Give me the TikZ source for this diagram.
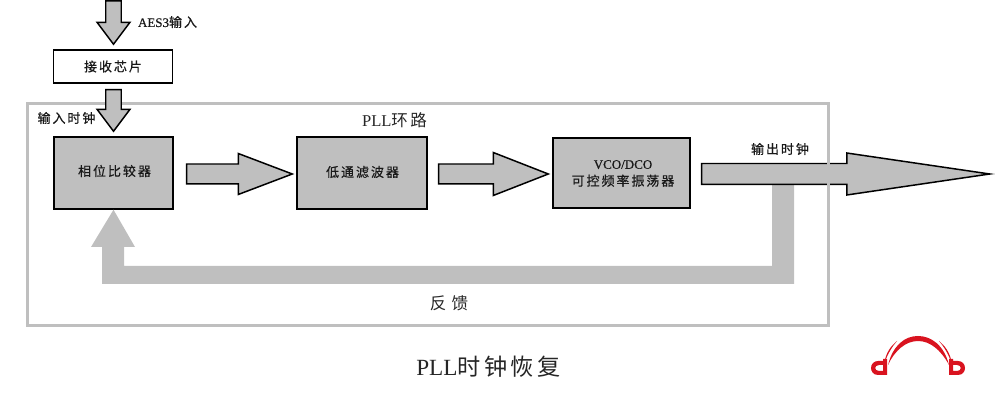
\documentclass[tikz,border=0pt]{standalone}
\usepackage{fontspec}
\setmainfont[LetterSpace=15]{Noto Sans CJK SC}
\newfontfamily\smallfont[LetterSpace=15,FakeBold=.5]{Noto Sans CJK SC}
\newfontfamily\latinfont{Liberation Serif}
\newfontfamily\smalllatin[FakeBold=.6]{Liberation Serif}
\usetikzlibrary{calc}

\definecolor{boxgray}{HTML}{BFBFBF}
\definecolor{logored}{HTML}{D9131F}

\tikzset{
  small label/.style = {inner sep=0pt, text=black!90, font=\smallfont\fontsize{7.4}{9.6}\selectfont, align=center},
  mid label/.style = {inner sep=0pt, text=black!85, font=\fontsize{9.4}{11}\selectfont},
  big label/.style = {inner sep=0pt, text=black!85, font=\fontsize{13.2}{15}\selectfont},
  block/.style = {draw=black, line width=.85pt, fill=boxgray, inner sep=0pt, minimum width=#1},
  flow/.style = {draw=black, line width=.85pt, fill=boxgray, line join=miter},
}

% start, tip, half shaft, half head, head length
\newcommand{\flowarrow}[5]{
  \coordinate (fs) at (#1);
  \coordinate (ft) at (#2);
  \coordinate (fb) at ($(ft)!#5!(fs)$);
  \draw [flow] ($(fs)!#3!90:(ft)$) -- ($(fb)!#3!-90:(fs)$) -- ($(fb)!#4!-90:(fs)$) -- (ft)
    -- ($(fb)!#4!90:(fs)$) -- ($(fb)!#3!90:(fs)$) -- ($(fs)!#3!-90:(ft)$) -- cycle;
}

\begin{document}
\begin{tikzpicture}[x=.02cm, y=-.02cm]
    \useasboundingbox (0,0) rectangle (1000,401);

    \node [block=23.8mm, fill=white, minimum height=6.6mm] (recv) at (113,66.5) {};
    \node [block=23.8mm, minimum height=14.4mm] (cmp) at (113.5,173) {};
    \node [block=26mm, minimum height=14.4mm] (lpf) at (362,173) {};
    \node [block=27.4mm, minimum height=14mm] (vco) at (621.5,173) {};

    % feedback path
    \fill [boxgray] (772,180) -- (772,266) -- (124,266) -- (124,247) -- (135,247) -- (cmp.south)
      -- (91,247) -- (102,247) -- (102,284) -- (794,284) -- (794,180) -- cycle;

    \flowarrow{$(cmp.east)+(13,1)$}{$(lpf.west)+(-4,1)$}{2mm}{4.1mm}{10.8mm}
    \flowarrow{$(lpf.east)+(11,1)$}{$(vco.west)+(-4,1)$}{2mm}{4.3mm}{11mm}
    \flowarrow{$(vco.east)+(11,1)$}{$(vco.east)+(299,1)$}{2.1mm}{4.2mm}{28.6mm}

    \node [draw=boxgray, line width=1.7pt, inner sep=0pt, minimum width=160.4mm, minimum height=44.6mm] (pll) at (428,214.5) {};

    \coordinate (aes) at (113.5,1);
    \flowarrow{aes}{$(recv.north)+(.5,-5)$}{1.55mm}{3.3mm}{4.4mm}
    \flowarrow{$(recv.south)+(.5,6)$}{$(cmp.north)+(0,-5)$}{1.55mm}{3.3mm}{4.4mm}

    \node [small label] (aestxt) at (167.5,22) {{\smalllatin AES3}输入};
    \node [small label] (recvtxt) at (recv) {接收芯片};
    \node [small label] (intxt) at (66.5,118) {输入时钟};
    \node [small label] (cmptxt) at (114.5,171) {相位比较器};
    \node [small label] (lpftxt) at (362.5,172) {低通滤波器};
    \node [small label] (vcotxt) at (623,173.5) {{\smalllatin VCO/DCO}\\可控频率振荡器};
    \node [small label] (outtxt) at (780,149) {输出时钟};
    \node [mid label] (plltxt) at (394.5,120) {{\latinfont PLL}环路};
    \node [mid label] (fbtxt) at (449,303) {反\kern3pt 馈};
    \node [big label] (title) at (488.5,367) {{\latinfont PLL}时钟恢复};

    % logo
    \fill [logored] (888,365) .. controls (893,345) and (905,336) .. (918,336)
      .. controls (931,336) and (944,345) .. (949,365)
      .. controls (941,350) and (930,341) .. (918,341)
      .. controls (906,341) and (895,350) .. (888,365) -- cycle;
    \foreach \side in {1,-1} {
      \begin{scope}[shift={(918,0)}, xscale=\side]
        \fill [logored] (-34,364) .. controls (-32,352) and (-27,346) .. (-21,341)
          .. controls (-26,347) and (-30,353) .. (-34,364) -- cycle;
        \fill [logored, even odd rule] (-31,359) -- (-31,375) -- (-40,375)
          .. controls (-45,375) and (-47,371) .. (-47,368)
          .. controls (-47,364) and (-44,361) .. (-40,361) -- (-35,361) -- (-35,359) -- cycle
          (-35,365) -- (-35,371) -- (-39,371)
          .. controls (-44,371) and (-44,365) .. (-39,365) -- cycle;
      \end{scope}
    }
\end{tikzpicture}
\end{document}
